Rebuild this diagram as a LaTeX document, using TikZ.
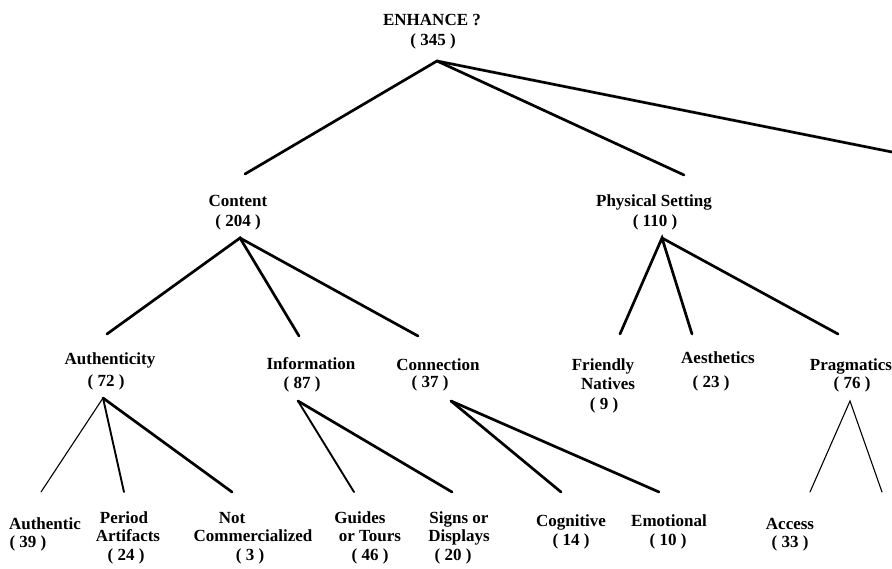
\documentclass[tikz,border=0pt]{standalone}
\usepackage{fontspec}
\setmainfont{Liberation Serif}
\begin{document}
\begin{tikzpicture}[x=1pt,y=-1pt,
  lbl/.style={font=\fontsize{17}{20}\selectfont\bfseries, anchor=base, inner sep=0pt},
  heavy/.style={line width=2.7pt, line cap=round},
  medium/.style={line width=1.9pt, line cap=round},
  light/.style={line width=1.1pt, line cap=round}]
\useasboundingbox (0,0) rectangle (892,568);
% labels
\node[lbl] (enh1) at (432,25) {ENHANCE ?};
\node[lbl] (enh2) at (433,45) {( 345 )};
\node[lbl] (con1) at (238,206) {Content};
\node[lbl] (con2) at (238,226) {( 204 )};
\node[lbl] (phy1) at (654,206) {Physical Setting};
\node[lbl] (phy2) at (655,226) {( 110 )};
\node[lbl] (aut1) at (110,364) {Authenticity};
\node[lbl] (aut2) at (106,386) {( 72 )};
\node[lbl] (inf1) at (311,369) {Information};
\node[lbl] (inf2) at (302,388) {( 87 )};
\node[lbl] (cnn1) at (438,370) {Connection};
\node[lbl] (cnn2) at (430,387) {( 37 )};
\node[lbl] (fri1) at (603,370) {Friendly};
\node[lbl] (fri2) at (608,389) {Natives};
\node[lbl] (fri3) at (604,409) {( 9 )};
\node[lbl] (aes1) at (718,363) {Aesthetics};
\node[lbl] (aes2) at (711,387) {( 23 )};
\node[lbl] (pra1) at (851,370) {Pragmatics};
\node[lbl] (pra2) at (852,388) {( 76 )};
\node[lbl] (b11) at (45,529) {Authentic};
\node[lbl] (b12) at (28,547) {( 39 )};
\node[lbl] (b21) at (124,523) {Period};
\node[lbl] (b22) at (128,541) {Artifacts};
\node[lbl] (b23) at (126,560) {( 24 )};
\node[lbl] (b31) at (232,523) {Not};
\node[lbl] (b32) at (253,541) {Commercialized};
\node[lbl] (b33) at (250,560) {( 3 )};
\node[lbl] (b41) at (360,523) {Guides};
\node[lbl] (b42) at (370,541) {or Tours};
\node[lbl] (b43) at (370,560) {( 46 )};
\node[lbl] (b51) at (459,523) {Signs or};
\node[lbl] (b52) at (459,541) {Displays};
\node[lbl] (b53) at (453,560) {( 20 )};
\node[lbl] (b61) at (571,526) {Cognitive};
\node[lbl] (b62) at (571,545) {( 14 )};
\node[lbl] (b71) at (669,526) {Emotional};
\node[lbl] (b72) at (668,545) {( 10 )};
\node[lbl] (b81) at (790,529) {Access};
\node[lbl] (b82) at (790,547) {( 33 )};
% branch points
\coordinate (rA) at (437,61);
\coordinate (tC) at (245,174);
\coordinate (tP) at (684,175);
\coordinate (tR) at (892,152);
\coordinate (cA) at (240,238);
\coordinate (cAu) at (107,334);
\coordinate (cIn) at (299,336);
\coordinate (cCo) at (418,336);
\coordinate (pA) at (662,238);
\coordinate (pFr) at (620,334);
\coordinate (pAe) at (692,334);
\coordinate (pPr) at (838,334);
\coordinate (aA) at (103,398);
\coordinate (aAu) at (41,492);
\coordinate (aPe) at (124,492);
\coordinate (aNo) at (232,492);
\coordinate (iA) at (298,401);
\coordinate (iGu) at (354,492);
\coordinate (iSi) at (452,492);
\coordinate (kA) at (451,401);
\coordinate (kCo) at (561,492);
\coordinate (kEm) at (659,492);
\coordinate (gA) at (850,401);
\coordinate (gAc) at (810,492);
\coordinate (gB) at (882,492);
% connectors
\draw[heavy] (tC) -- (rA) -- (tP);
\draw[heavy] (rA) -- (tR);
\draw[heavy] (cAu) -- (cA) -- (cIn);
\draw[heavy] (cA) -- (cCo);
\draw[heavy] (pFr) -- (pA) -- (pAe);
\draw[heavy] (pA) -- (pPr);
\draw[light] (aA) -- (aAu);
\draw[medium] (aA) -- (aPe);
\draw[heavy] (aA) -- (aNo);
\draw[medium] (iA) -- (iGu);
\draw[heavy] (iA) -- (iSi);
\draw[heavy] (kA) -- (kCo);
\draw[heavy] (kA) -- (kEm);
\draw[light] (gAc) -- (gA) -- (gB);
\end{tikzpicture}
\end{document}
